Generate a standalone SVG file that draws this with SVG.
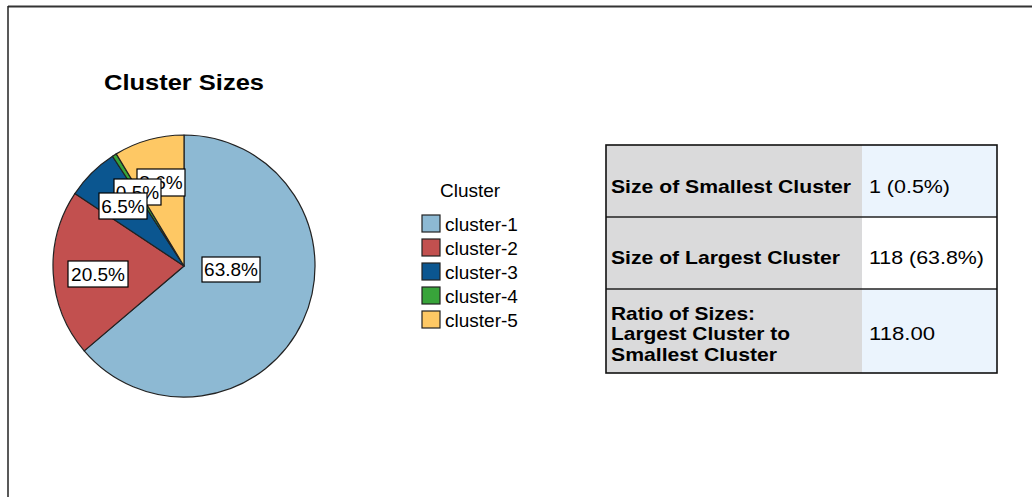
<svg xmlns="http://www.w3.org/2000/svg" width="1032" height="497" viewBox="0 0 1032 497">
  <style>
    text { font-family: "Liberation Sans", Arial, sans-serif; fill: #000; }
    .title { font-size: 22px; font-weight: bold; }
    .lbl { font-size: 19px; }
    .bold { font-size: 19px; font-weight: bold; }
    .slice { stroke: #222; stroke-width: 1.2; stroke-linejoin: round; }
    .tag { fill: #fff; stroke: #000; stroke-width: 1.2; }
    .sw { stroke: #222; stroke-width: 1.2; }
    .c1 { fill: #8db9d3; }
    .c2 { fill: #c2504f; }
    .c3 { fill: #0b5690; }
    .c4 { fill: #38a43a; }
    .c5 { fill: #fec864; }
    .hdr { fill: #dadadb; }
    .val { fill: #ebf4fd; }
    .rule { stroke: #222; stroke-width: 1.5; }
  </style>

  <rect width="1032" height="497" fill="#fff"/>
  <!-- frame edges -->
  <line x1="8" y1="6.5" x2="1032" y2="6.5" stroke="#333" stroke-width="2"/>
  <line x1="8" y1="6" x2="8" y2="497" stroke="#222" stroke-width="1.5"/>

  <text id="chart-title" class="title" x="104" y="90" textLength="160" lengthAdjust="spacingAndGlyphs">Cluster Sizes</text>

  <!-- pie: center (184,266), r=131, slices clockwise from 12 o'clock -->
  <g id="pie">
    <path id="slice-1" class="slice c1" d="M184,266 L184,135 A131,131 0 1 1 84.20,350.84 Z"/>
    <path id="slice-2" class="slice c2" d="M184,266 L84.20,350.84 A131,131 0 0 1 74.85,193.56 Z"/>
    <path id="slice-3" class="slice c3" d="M184,266 L74.85,193.56 A131,131 0 0 1 112.50,156.23 Z"/>
    <path id="slice-4" class="slice c4" d="M184,266 L112.50,156.23 A131,131 0 0 1 116.26,153.88 Z"/>
    <path id="slice-5" class="slice c5" d="M184,266 L116.26,153.88 A131,131 0 0 1 184,135 Z"/>
  </g>

  <g id="pie-labels" class="lbl" text-anchor="middle">
    <g id="label-1">
      <rect class="tag" x="202" y="257" width="58" height="25"/>
      <text x="231" y="276">63.8%</text>
    </g>
    <g id="label-2">
      <rect class="tag" x="68" y="261" width="60" height="26"/>
      <text x="98" y="281">20.5%</text>
    </g>
    <g id="label-5">
      <rect class="tag" x="137" y="169" width="48" height="27"/>
      <text x="161" y="189">8.6%</text>
    </g>
    <g id="label-4">
      <rect class="tag" x="114" y="179" width="47" height="26"/>
      <text x="137.5" y="199">0.5%</text>
    </g>
    <g id="label-3">
      <rect class="tag" x="99" y="193" width="48" height="26"/>
      <text x="123" y="213">6.5%</text>
    </g>
  </g>

  <g id="legend" class="lbl">
    <text x="440" y="197">Cluster</text>
    <g id="legend-1"><rect class="sw c1" x="422" y="215" width="18" height="17"/><text x="445" y="231">cluster-1</text></g>
    <g id="legend-2"><rect class="sw c2" x="422" y="239" width="18" height="17"/><text x="445" y="255">cluster-2</text></g>
    <g id="legend-3"><rect class="sw c3" x="422" y="263" width="18" height="17"/><text x="445" y="279">cluster-3</text></g>
    <g id="legend-4"><rect class="sw c4" x="422" y="287" width="18" height="17"/><text x="445" y="303">cluster-4</text></g>
    <g id="legend-5"><rect class="sw c5" x="422" y="311" width="18" height="17"/><text x="445" y="327">cluster-5</text></g>
  </g>

  <g id="summary-table">
    <rect class="hdr" x="606" y="145" width="256" height="228"/>
    <rect class="val" x="862" y="145" width="135" height="72"/>
    <rect fill="#fff" x="862" y="217" width="135" height="72"/>
    <rect class="val" x="862" y="289" width="135" height="84"/>
    <line class="rule" x1="606" y1="217" x2="997" y2="217"/>
    <line class="rule" x1="606" y1="289" x2="997" y2="289"/>
    <rect x="606" y="145" width="391" height="228" fill="none" stroke="#111" stroke-width="1.6"/>

    <g id="row-smallest">
      <text class="bold" x="611" y="193" textLength="240" lengthAdjust="spacingAndGlyphs">Size of Smallest Cluster</text>
      <text class="lbl" x="869" y="193" textLength="81" lengthAdjust="spacingAndGlyphs">1 (0.5%)</text>
    </g>
    <g id="row-largest">
      <text class="bold" x="611" y="264" textLength="229" lengthAdjust="spacingAndGlyphs">Size of Largest Cluster</text>
      <text class="lbl" x="869" y="264" textLength="115" lengthAdjust="spacingAndGlyphs">118 (63.8%)</text>
    </g>
    <g id="row-ratio">
      <text class="bold" x="611" y="320" textLength="144" lengthAdjust="spacingAndGlyphs">Ratio of Sizes:</text>
      <text class="bold" x="611" y="340" textLength="179" lengthAdjust="spacingAndGlyphs">Largest Cluster to</text>
      <text class="bold" x="611" y="361" textLength="166" lengthAdjust="spacingAndGlyphs">Smallest Cluster</text>
      <text class="lbl" x="869" y="340" textLength="66" lengthAdjust="spacingAndGlyphs">118.00</text>
    </g>
  </g>
</svg>
